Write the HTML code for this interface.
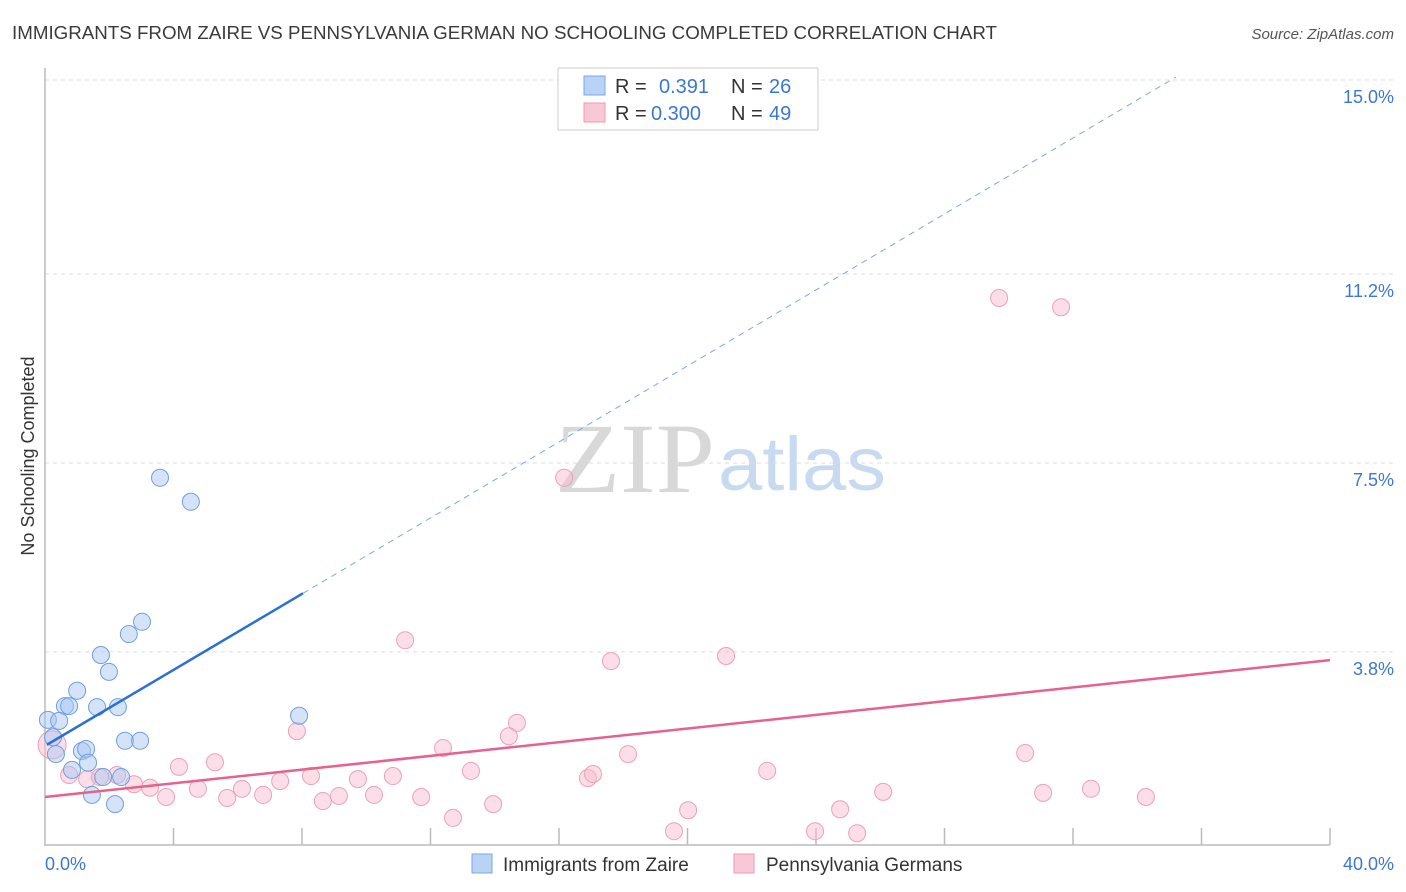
<!DOCTYPE html>
<html><head><meta charset="utf-8"><style>
body{margin:0;background:#fff;font-family:"Liberation Sans",sans-serif;}
svg{display:block}
</style></head><body>
<svg id="c" width="1406" height="892" xmlns="http://www.w3.org/2000/svg">
<text x="12" y="39" font-size="18" fill="#3a3a3a" textLength="985" lengthAdjust="spacingAndGlyphs">IMMIGRANTS FROM ZAIRE VS PENNSYLVANIA GERMAN NO SCHOOLING COMPLETED CORRELATION CHART</text>
<text x="1394" y="39" font-size="15" fill="#555" font-style="italic" text-anchor="end">Source: ZipAtlas.com</text>
<g>
<text x="555" y="492" font-size="100" font-family="Liberation Serif,serif" fill="#d8d8d8" textLength="160" lengthAdjust="spacingAndGlyphs">ZIP</text>
<text x="718" y="490" font-size="76" fill="#c8daf0" textLength="168" lengthAdjust="spacingAndGlyphs">atlas</text>
</g>
<g id="grid"></g>
<line x1="45" y1="68" x2="45" y2="846" stroke="#bbb" stroke-width="1.5"/>
<line x1="45" y1="845" x2="1330" y2="845" stroke="#bbb" stroke-width="1.5"/>
<g id="ticks"></g>
<text x="45" y="870" font-size="18" fill="#3a78d4">0.0%</text>
<text x="1394" y="870" font-size="18" fill="#3a78d4" text-anchor="end">40.0%</text>
<text transform="translate(34,456) rotate(-90)" font-size="18" fill="#333" text-anchor="middle">No Schooling Completed</text>
<g id="pts"></g>
<g id="lines"></g>
<g>
<rect x="558" y="68" width="260" height="62" fill="#fff" stroke="#ccc"/>
<rect x="584" y="76" width="21" height="19" fill="#b9d3f5" stroke="#7aa7e3"/>
<rect x="584" y="103" width="21" height="19" fill="#f9c8d6" stroke="#eb9ab2"/>
<text font-size="20" fill="#333"><tspan x="615" y="93">R =</tspan><tspan x="659" fill="#3a78d4">0.391</tspan><tspan x="731">N =</tspan><tspan x="769" fill="#3a78d4">26</tspan></text>
<text font-size="20" fill="#333"><tspan x="615" y="120">R =</tspan><tspan x="651" fill="#3a78d4">0.300</tspan><tspan x="731">N =</tspan><tspan x="769" fill="#3a78d4">49</tspan></text>
</g>
<g>
<rect x="472" y="854" width="20" height="19" fill="#b9d3f5" stroke="#7aa7e3"/>
<text x="503" y="871" font-size="19" fill="#333">Immigrants from Zaire</text>
<rect x="734" y="854" width="20" height="19" fill="#f9c8d6" stroke="#eb9ab2"/>
<text x="766" y="871" font-size="19" fill="#333">Pennsylvania Germans</text>
</g>
</svg>
<script>
const yTicks=[15.0,11.2,7.5,3.8];
const yTickLabels=["15.0%","11.2%","7.5%","3.8%"];
const xTicks=[4,8,12,16,20,24,28,32,36,40];
const zaireX=[3.58,4.54,3.02,2.61,1.74,1.99,1.00,0.62,0.75,1.62,2.27,0.09,0.44,7.91,0.25,2.49,2.96,0.34,1.15,1.28,0.84,1.34,1.81,2.37,1.46,2.18];
const zaireY=[7.21,6.74,4.39,4.15,3.74,3.41,3.04,2.74,2.74,2.72,2.72,2.47,2.45,2.55,2.13,2.06,2.06,1.80,1.86,1.90,1.49,1.63,1.35,1.35,1.00,0.82];
const germX=[0.22,29.70,31.63,16.16,11.21,17.62,21.20,7.84,14.69,14.44,12.39,18.15,30.51,4.17,5.29,13.26,22.48,0.75,1.31,1.71,2.24,2.77,3.27,3.77,4.76,5.67,6.13,6.79,7.32,8.28,8.65,9.15,9.74,10.24,10.83,11.71,12.70,13.95,16.90,17.06,20.02,23.97,24.75,25.28,26.09,31.07,32.56,34.27,19.58];
const germY=[1.98,10.73,10.55,7.21,4.03,3.62,3.72,2.25,2.41,2.15,1.92,1.80,1.82,1.55,1.64,1.47,1.47,1.39,1.31,1.35,1.39,1.21,1.14,0.96,1.12,0.94,1.12,1.00,1.27,1.37,0.88,0.98,1.31,1.00,1.37,0.96,0.55,0.82,1.33,1.41,0.70,0.29,0.72,0.25,1.06,1.04,1.12,0.96,0.29];
const zaireTrend=[1.96,0.372];
const germTrend=[0.96,0.067];
const X=v=>45+v/40*1285, Y=v=>846-v*51.07;
const NS="http://www.w3.org/2000/svg";
function mk(t,a,p){const e=document.createElementNS(NS,t);for(const k in a)e.setAttribute(k,a[k]);document.getElementById(p).appendChild(e);return e;}
yTicks.forEach((v,i)=>{
 const l=mk('line',{x1:45,x2:1395,y1:Y(v),y2:Y(v),stroke:'#ddd','stroke-dasharray':'4,4'},'grid');
 
 
 const t=mk('text',{x:1394,y:Y(v)+23,'font-size':18,fill:'#3a78d4','text-anchor':'end'},'grid');
 t.textContent=yTickLabels[i];
 
 
});
xTicks.forEach(v=>{
 const l=mk('line',{x1:X(v),x2:X(v),y1:828,y2:845,stroke:'#bbb','stroke-width':1.5},'ticks');
 
 
});
germX.forEach((x,i)=>{
 const c=mk('circle',{cx:X(x),cy:Y(germY[i]),r:i==0?14:8.5,fill:'rgba(248,190,208,0.5)',stroke:'#eda0b8','stroke-width':1},'pts');
 
 
});
zaireX.forEach((x,i)=>{
 const c=mk('circle',{cx:X(x),cy:Y(zaireY[i]),r:8.5,fill:'rgba(170,200,242,0.5)',stroke:'#6f9fe0','stroke-width':1},'pts');
 
 
});
let a=0.06,b=8.03,c2=35.2;
let l1=mk('line',{x1:X(a),y1:Y(zaireTrend[0]+zaireTrend[1]*a),x2:X(b),y2:Y(zaireTrend[0]+zaireTrend[1]*b),stroke:'#2a6fd6','stroke-width':2.5},'lines');


let l2=mk('line',{x1:X(b),y1:Y(zaireTrend[0]+zaireTrend[1]*b),x2:X(c2),y2:Y(zaireTrend[0]+zaireTrend[1]*c2),stroke:'#7fa6e0','stroke-width':1,'stroke-dasharray':'6,5'},'lines');


let l3=mk('line',{x1:X(0),y1:Y(germTrend[0]),x2:X(40),y2:Y(germTrend[0]+germTrend[1]*40),stroke:'#e8608c','stroke-width':2.5},'lines');


</script>
</body></html>
